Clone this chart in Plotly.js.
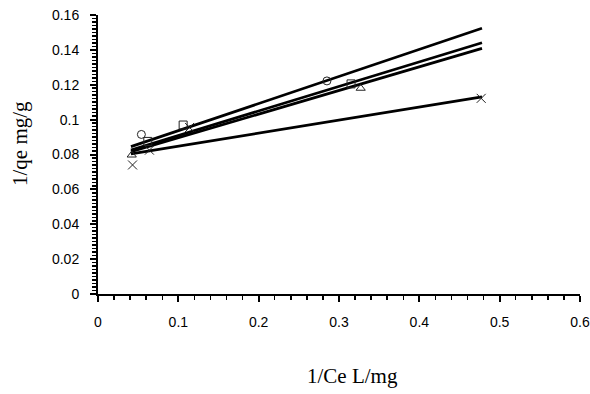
<!DOCTYPE html>
<html>
<head>
<meta charset="utf-8">
<script src="https://cdn.plot.ly/plotly-3.0.1.min.js"></script>
<style>html,body{margin:0;padding:0;background:#fff;}#chart{width:590px;height:394px;}</style>
</head>
<body>
<div id="chart"></div>
<script>
// Data points
var circleX = [0.054, 0.285];
var circleY = [0.0915, 0.1222];
var squareX = [0.062, 0.106, 0.315];
var squareY = [0.0875, 0.0969, 0.1205];
var triangleX = [0.042, 0.327];
var triangleY = [0.0797, 0.118];
var crossX = [0.043, 0.064, 0.114, 0.477];
var crossY = [0.074, 0.0825, 0.0955, 0.1122];

// Trend line end points
var lineX = [0.041, 0.478];
var circleLineY = [0.0845, 0.1524];
var squareLineY = [0.0826, 0.1441];
var triangleLineY = [0.0816, 0.1409];
var crossLineY = [0.0803, 0.1131];

var xTitle = '1/Ce L/mg';
var yTitle = '1/qe mg/g';

function lineTrace(y) {
  return {x: lineX, y: y, mode: 'lines', type: 'scatter',
          line: {color: '#000', width: 2.8}, hoverinfo: 'skip', showlegend: false};
}
function markerTrace(x, y, sym, size) {
  return {x: x, y: y, mode: 'markers', type: 'scatter', showlegend: false,
          marker: {symbol: sym, size: size, color: '#222', line: {width: 1, color: '#222'}}};
}

var data = [
  lineTrace(circleLineY), lineTrace(squareLineY), lineTrace(triangleLineY), lineTrace(crossLineY),
  markerTrace(circleX, circleY, 'circle-open', 8),
  markerTrace(squareX, squareY, 'square-open', 8),
  markerTrace(triangleX, triangleY, 'triangle-up-open', 8),
  markerTrace(crossX, crossY, 'x-thin-open', 9)
];

var tickFont = {family: 'Liberation Sans, Arial, sans-serif', size: 14, color: '#000'};
var titleFont = {family: 'Liberation Serif, Times New Roman, serif', size: 21, color: '#000'};

var layout = {
  width: 590, height: 394,
  margin: {l: 98, r: 10, t: 15, b: 100},
  paper_bgcolor: '#fff', plot_bgcolor: '#fff',
  showlegend: false,
  xaxis: {
    range: [0, 0.6], dtick: 0.1, tick0: 0,
    showgrid: false, zeroline: false,
    showline: true, linecolor: '#000', linewidth: 2,
    ticks: 'outside', ticklen: 6, tickwidth: 2, tickcolor: '#000',
    minor: {dtick: 0.02, ticks: 'outside', ticklen: 4, tickwidth: 1.5, tickcolor: '#000', showgrid: false},
    tickfont: tickFont, ticklabelstandoff: 8
  },
  yaxis: {
    range: [0, 0.16], dtick: 0.02, tick0: 0,
    showgrid: false, zeroline: false,
    showline: true, linecolor: '#000', linewidth: 2,
    ticks: 'outside', ticklen: 6, tickwidth: 2, tickcolor: '#000',
    minor: {dtick: 0.002, ticks: 'outside', ticklen: 4, tickwidth: 1.5, tickcolor: '#000', showgrid: false},
    tickfont: tickFont, ticklabelstandoff: 8
  },
  annotations: [
    {text: xTitle, xref: 'paper', yref: 'paper', x: (352 - 98) / 482, y: -(376 - 294) / 279,
     xanchor: 'center', yanchor: 'middle', showarrow: false, font: titleFont},
    {text: yTitle, xref: 'paper', yref: 'paper', x: -(98 - 20) / 482, y: (294 - 144) / 279,
     xanchor: 'center', yanchor: 'middle', showarrow: false, textangle: -90, font: titleFont}
  ]
};

Plotly.newPlot('chart', data, layout, {staticPlot: true, displayModeBar: false});
</script>
</body>
</html>
